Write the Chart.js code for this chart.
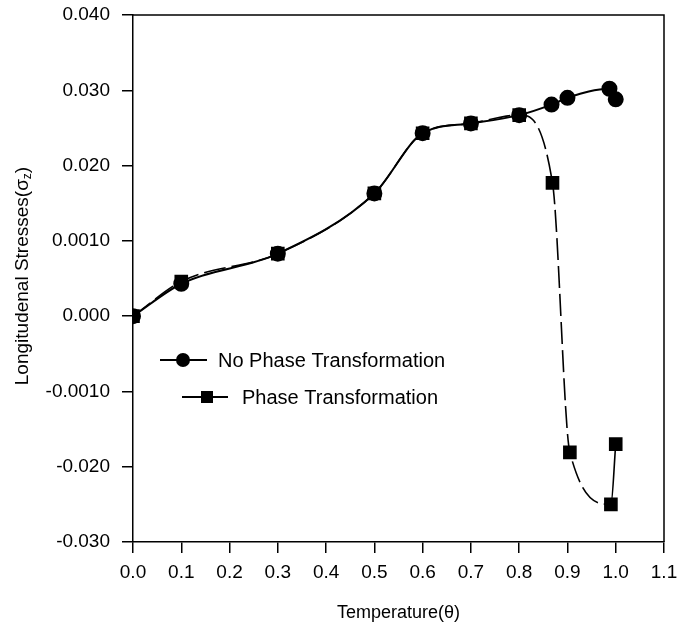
<!DOCTYPE html>
<html>
<head>
<meta charset="utf-8">
<script src="https://cdn.jsdelivr.net/npm/chart.js@4"></script>
<style>
html,body{margin:0;padding:0;background:#fff;}
#wrap{width:693px;height:629px;position:relative;}
</style>
</head>
<body>
<div id="wrap"><canvas id="c" width="693" height="629"></canvas></div>
<script>
// ---- data ----
const noPhaseTemps  = [0, 0.1, 0.3, 0.5, 0.6, 0.7, 0.8, 0.867, 0.9, 0.987, 1.0];
const noPhaseStress = [0, 0.0043, 0.0083, 0.0163, 0.0243, 0.0256, 0.0267, 0.0281, 0.0290, 0.0302, 0.0288];
const phaseTemps    = [0, 0.1, 0.3, 0.5, 0.6, 0.7, 0.8, 0.869, 0.905, 0.99, 1.0];
const phaseStress   = [0, 0.0046, 0.0083, 0.0163, 0.0243, 0.0256, 0.0267, 0.0177, -0.0181, -0.0250, -0.0170];
const yTickValues = [-0.03, -0.02, -0.01, 0, 0.01, 0.02, 0.03, 0.04];
const yTickLabels = ['-0.030', '-0.020', '-0.0010', '0.000', '0.0010', '0.020', '0.030', '0.040'];
const seriesNames = ['No Phase Transformation', 'Phase Transformation'];
const xTitle = 'Temperature(θ)';
const yTitleMain = 'Longitudenal Stresses(σ';
const yTitleSub = 'z';
const yTitleEnd = ')';

const FONT = "'Liberation Sans', Arial, Helvetica, sans-serif";

const toXY = (xs, ys) => xs.map((x, i) => ({x: x, y: ys[i]}));

const framePlugin = {
  id: 'frame',
  afterDraw(chart) {
    const {ctx, chartArea: a} = chart;
    ctx.save();
    ctx.strokeStyle = '#000';
    ctx.lineWidth = 1.5;
    ctx.beginPath();
    ctx.moveTo(a.left, a.top);
    ctx.lineTo(a.right, a.top);
    ctx.lineTo(a.right, a.bottom);
    ctx.stroke();
    ctx.restore();
  }
};

const titlesPlugin = {
  id: 'titles',
  afterDraw(chart) {
    const {ctx, chartArea: a} = chart;
    ctx.save();
    ctx.fillStyle = '#000';
    ctx.font = '18px ' + FONT;
    ctx.textAlign = 'center';
    ctx.textBaseline = 'middle';
    ctx.fillText(xTitle, (a.left + a.right) / 2, 613);
    // y title rotated, with subscript
    ctx.translate(21, 276);
    ctx.rotate(-Math.PI / 2);
    ctx.font = '19px ' + FONT;
    const w1 = ctx.measureText(yTitleMain).width;
    ctx.font = '12px ' + FONT;
    const w2 = ctx.measureText(yTitleSub).width;
    ctx.font = '19px ' + FONT;
    const w3 = ctx.measureText(yTitleEnd).width;
    const total = w1 + w2 + w3;
    let x0 = -total / 2;
    ctx.textAlign = 'left';
    ctx.textBaseline = 'alphabetic';
    ctx.fillText(yTitleMain, x0, 7);
    ctx.font = '12px ' + FONT;
    ctx.fillText(yTitleSub, x0 + w1, 10);
    ctx.font = '19px ' + FONT;
    ctx.fillText(yTitleEnd, x0 + w1 + w2, 7);
    ctx.restore();
  }
};

const legendPlugin = {
  id: 'customLegend',
  afterDraw(chart) {
    const ctx = chart.ctx;
    const items = [
      {x1: 160, x2: 207, mx: 183, y: 360, style: 'circle', tx: 218},
      {x1: 182, x2: 228, mx: 207, y: 397, style: 'rect', tx: 242}
    ];
    ctx.save();
    ctx.strokeStyle = '#000';
    ctx.fillStyle = '#000';
    ctx.lineWidth = 2;
    items.forEach((it, i) => {
      ctx.beginPath();
      ctx.moveTo(it.x1, it.y);
      ctx.lineTo(it.x2, it.y);
      ctx.stroke();
      if (it.style === 'circle') {
        ctx.beginPath();
        ctx.arc(it.mx, it.y, 7, 0, Math.PI * 2);
        ctx.fill();
      } else {
        ctx.fillRect(it.mx - 6, it.y - 6, 12, 12);
      }
      ctx.font = '20px ' + FONT;
      ctx.textAlign = 'left';
      ctx.textBaseline = 'middle';
      ctx.fillText(seriesNames[i], it.tx, it.y + 1);
    });
    ctx.restore();
  }
};

new Chart(document.getElementById('c'), {
  type: 'line',
  data: {
    datasets: [
      {
        label: seriesNames[0],
        data: toXY(noPhaseTemps, noPhaseStress),
        borderColor: '#000',
        backgroundColor: '#000',
        borderWidth: 2,
        pointStyle: 'circle',
        pointRadius: 7,
        pointHoverRadius: 7,
        cubicInterpolationMode: 'monotone',
        fill: false,
        order: 2
      },
      {
        label: seriesNames[1],
        data: toXY(phaseTemps, phaseStress),
        borderColor: '#000',
        backgroundColor: '#000',
        borderWidth: 1.6,
        pointStyle: 'rect',
        pointRadius: 8.5,
        pointHoverRadius: 8.5,
        cubicInterpolationMode: 'monotone',
        fill: false,
        order: 1,
        segment: {
          borderDash: ctx => (ctx.p0.parsed.x >= 0.98 ? [] : [22, 6])
        }
      }
    ]
  },
  options: {
    responsive: false,
    animation: false,
    events: [],
    layout: {padding: {left: 0, right: 29, top: 15, bottom: 0}},
    plugins: {
      legend: {display: false},
      tooltip: {enabled: false},
      title: {display: false}
    },
    scales: {
      x: {
        type: 'linear',
        min: 0,
        max: 1.1,
        afterFit(scale) { scale.height = 87; scale.paddingLeft = 0; scale.paddingRight = 0; },
        afterBuildTicks(scale) {
          const t = [];
          for (let i = 0; i <= 11; i++) t.push({value: i / 10});
          scale.ticks = t;
        },
        ticks: {
          color: '#000',
          font: {family: FONT, size: 19},
          padding: 8,
          maxRotation: 0,
          autoSkip: false,
          callback: v => v.toFixed(1)
        },
        grid: {display: true, drawOnChartArea: false, drawTicks: true, tickLength: 11, color: '#000', lineWidth: 1.5},
        border: {display: true, color: '#000', width: 1.5}
      },
      y: {
        type: 'linear',
        min: -0.03,
        max: 0.04,
        afterFit(scale) { scale.width = 133; scale.paddingTop = 0; scale.paddingBottom = 0; },
        afterBuildTicks(scale) {
          scale.ticks = yTickValues.map(v => ({value: v}));
        },
        ticks: {
          color: '#000',
          font: {family: FONT, size: 19},
          padding: 12,
          autoSkip: false,
          callback: (v, i) => yTickLabels[i]
        },
        grid: {display: true, drawOnChartArea: false, drawTicks: true, tickLength: 11, color: '#000', lineWidth: 1.5},
        border: {display: true, color: '#000', width: 1.5}
      }
    }
  },
  plugins: [framePlugin, titlesPlugin, legendPlugin]
});
</script>
</body>
</html>
